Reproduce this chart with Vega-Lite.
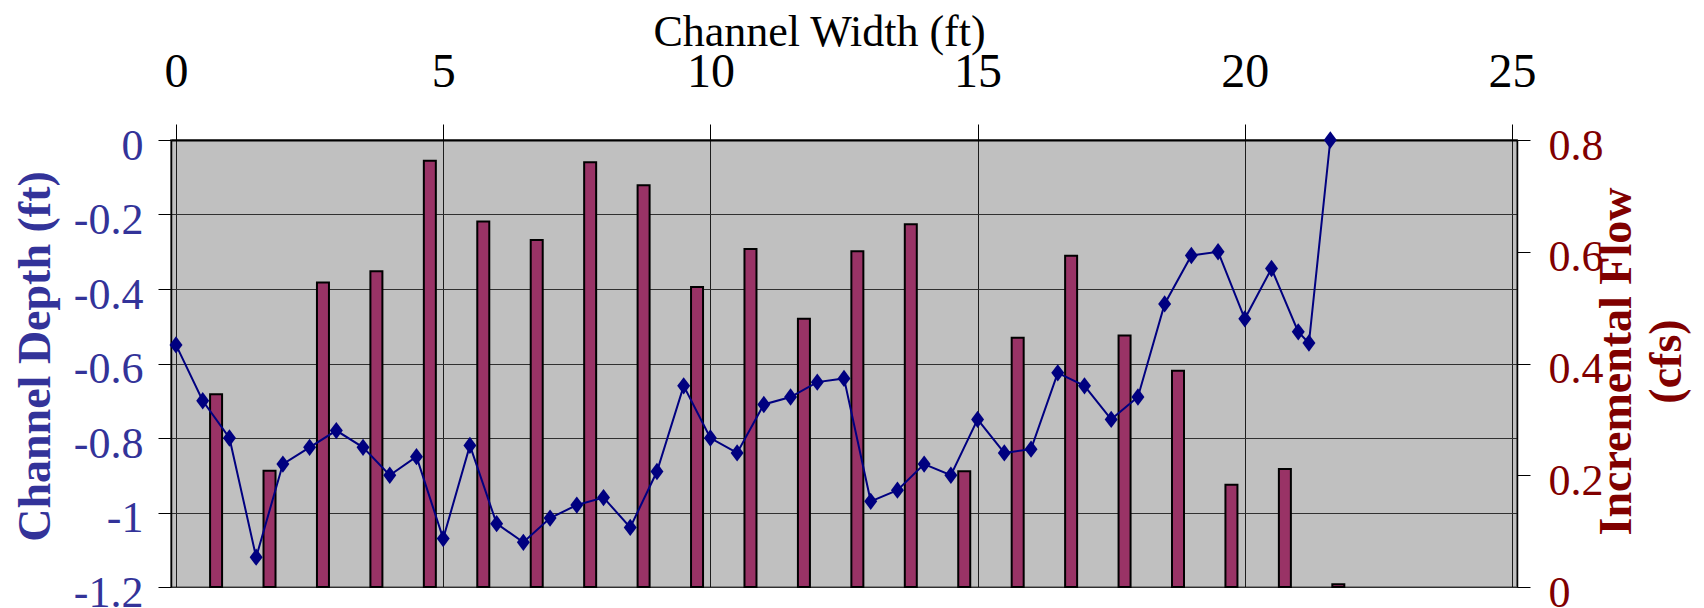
{
  "$schema": "https://vega.github.io/schema/vega-lite/v6.json",
  "autosize": {"type": "none"},
  "padding": {"left": 171, "top": 140, "right": 187, "bottom": 21},
  "width": 1346,
  "height": 447,
  "background": "#ffffff",
  "config": {
    "view": {"fill": "#C0C0C0", "stroke": "#808080", "strokeWidth": 2},
    "font": "Liberation Serif"
  },
  "datasets": {
    "depth": [
      {"x": 0, "depth": -0.55},
      {"x": 0.5, "depth": -0.70},
      {"x": 1.0, "depth": -0.80},
      {"x": 1.5, "depth": -1.12},
      {"x": 2.0, "depth": -0.87},
      {"x": 2.5, "depth": -0.825},
      {"x": 3.0, "depth": -0.78},
      {"x": 3.5, "depth": -0.825},
      {"x": 4.0, "depth": -0.90},
      {"x": 4.5, "depth": -0.85},
      {"x": 5.0, "depth": -1.07},
      {"x": 5.5, "depth": -0.82},
      {"x": 6.0, "depth": -1.03},
      {"x": 6.5, "depth": -1.08},
      {"x": 7.0, "depth": -1.015},
      {"x": 7.5, "depth": -0.98},
      {"x": 8.0, "depth": -0.96},
      {"x": 8.5, "depth": -1.04},
      {"x": 9.0, "depth": -0.89},
      {"x": 9.5, "depth": -0.66},
      {"x": 10.0, "depth": -0.80},
      {"x": 10.5, "depth": -0.84},
      {"x": 11.0, "depth": -0.71},
      {"x": 11.5, "depth": -0.69},
      {"x": 12.0, "depth": -0.65},
      {"x": 12.5, "depth": -0.64},
      {"x": 13.0, "depth": -0.97},
      {"x": 13.5, "depth": -0.94},
      {"x": 14.0, "depth": -0.87},
      {"x": 14.5, "depth": -0.90},
      {"x": 15.0, "depth": -0.75},
      {"x": 15.5, "depth": -0.84},
      {"x": 16.0, "depth": -0.83},
      {"x": 16.5, "depth": -0.625},
      {"x": 17.0, "depth": -0.66},
      {"x": 17.5, "depth": -0.75},
      {"x": 18.0, "depth": -0.69},
      {"x": 18.5, "depth": -0.44},
      {"x": 19.0, "depth": -0.31},
      {"x": 19.5, "depth": -0.30},
      {"x": 20.0, "depth": -0.48},
      {"x": 20.5, "depth": -0.345},
      {"x": 21.0, "depth": -0.515},
      {"x": 21.2, "depth": -0.545},
      {"x": 21.6, "depth": 0}
    ],
    "flow": [
      {"x": 0.75, "flow": 0.345},
      {"x": 1.75, "flow": 0.208},
      {"x": 2.75, "flow": 0.545},
      {"x": 3.75, "flow": 0.565},
      {"x": 4.75, "flow": 0.763},
      {"x": 5.75, "flow": 0.654},
      {"x": 6.75, "flow": 0.621},
      {"x": 7.75, "flow": 0.760},
      {"x": 8.75, "flow": 0.719},
      {"x": 9.75, "flow": 0.537},
      {"x": 10.75, "flow": 0.605},
      {"x": 11.75, "flow": 0.480},
      {"x": 12.75, "flow": 0.601},
      {"x": 13.75, "flow": 0.649},
      {"x": 14.75, "flow": 0.207},
      {"x": 15.75, "flow": 0.446},
      {"x": 16.75, "flow": 0.593},
      {"x": 17.75, "flow": 0.450},
      {"x": 18.75, "flow": 0.387},
      {"x": 19.75, "flow": 0.183},
      {"x": 20.75, "flow": 0.211},
      {"x": 21.75, "flow": 0.005}
    ]
  },
  "encoding": {
    "x": {
      "field": "x",
      "type": "quantitative",
      "scale": {"domain": [0, 25], "nice": false, "zero": false},
      "axis": {
        "orient": "top",
        "title": "Channel Width (ft)",
        "values": [0, 5, 10, 15, 20, 25],
        "format": "d",
        "grid": true,
        "gridColor": "#000000",
        "gridWidth": 1,
        "gridOpacity": 0.85,
        "ticks": true,
        "tickSize": 16,
        "tickColor": "#000000",
        "tickWidth": 1,
        "domain": true,
        "domainColor": "#000000",
        "domainWidth": 2,
        "labelFont": "Liberation Serif",
        "labelFontSize": 48,
        "labelColor": "#000000",
        "labelPadding": 38,
        "labelBaseline": "alphabetic",
        "labelFlush": false,
        "labelOverlap": false,
        "titleFont": "Liberation Serif",
        "titleFontSize": 44,
        "titleFontWeight": "normal",
        "titleColor": "#000000",
        "titleX": 648,
        "titleY": -95,
        "titleAlign": "center",
        "titleBaseline": "alphabetic"
      }
    }
  },
  "layer": [
    {
      "data": {"name": "flow"},
      "mark": {"type": "bar", "width": 12, "fill": "#993366", "stroke": "#000000", "strokeWidth": 2},
      "encoding": {
        "y": {
          "field": "flow",
          "type": "quantitative",
          "scale": {"domain": [0, 0.8], "nice": false},
          "axis": {
            "orient": "right",
            "title": ["Incremental Flow", "(cfs)"],
            "values": [0, 0.2, 0.4, 0.6, 0.8],
            "format": "~g",
            "grid": false,
            "ticks": true,
            "tickSize": 13,
            "tickColor": "#000000",
            "domain": true,
            "domainColor": "#000000",
            "domainWidth": 1.5,
            "labelFont": "Liberation Serif",
            "labelFontSize": 44,
            "labelColor": "#800000",
            "labelPadding": 18,
            "labelBaseline": "middle",
            "labelOffset": 6,
            "labelFlush": false,
            "labelOverlap": false,
            "titleFont": "Liberation Serif",
            "titleFontSize": 46,
            "titleFontWeight": "bold",
            "titleColor": "#800000",
            "titleAngle": 270,
            "titleAlign": "center",
            "titleBaseline": "alphabetic",
            "titleLineHeight": 50,
            "titleX": 113,
            "titleY": 221
          }
        }
      }
    },
    {
      "data": {"name": "depth"},
      "encoding": {
        "y": {
          "field": "depth",
          "type": "quantitative",
          "scale": {"domain": [-1.2, 0], "nice": false, "zero": false},
          "axis": {
            "orient": "left",
            "title": "Channel Depth (ft)",
            "values": [-1.2, -1, -0.8, -0.6, -0.4, -0.2, 0],
            "labelExpr": "replace(format(datum.value, '~g'), '−', '-')",
            "grid": true,
            "gridColor": "#303030",
            "gridWidth": 1,
            "ticks": true,
            "tickSize": 13,
            "tickColor": "#000000",
            "domain": true,
            "domainColor": "#000000",
            "domainWidth": 1.5,
            "labelFont": "Liberation Serif",
            "labelFontSize": 44,
            "labelColor": "#333399",
            "labelPadding": 15,
            "labelBaseline": "middle",
            "labelOffset": 6,
            "labelFlush": false,
            "labelOverlap": false,
            "titleFont": "Liberation Serif",
            "titleFontSize": 46,
            "titleFontWeight": "bold",
            "titleColor": "#333399",
            "titleAngle": 270,
            "titleAlign": "center",
            "titleBaseline": "alphabetic",
            "titleX": -122,
            "titleY": 216
          }
        }
      },
      "layer": [
        {"mark": {"type": "line", "color": "#000080", "strokeWidth": 2}},
        {"mark": {"type": "point", "shape": "M-0.75,0L0,-1L0.75,0L0,1Z", "size": 300, "filled": true, "color": "#000080", "opacity": 1}}
      ]
    }
  ],
  "resolve": {"scale": {"y": "independent"}}
}
